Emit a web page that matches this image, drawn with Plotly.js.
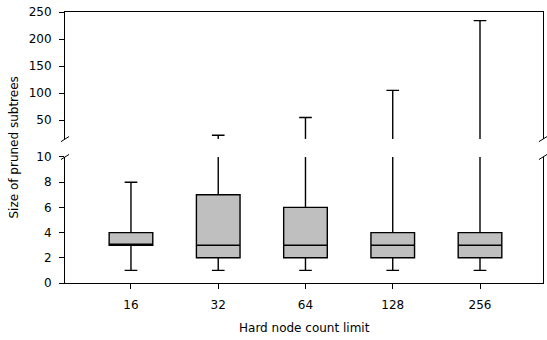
<!DOCTYPE html>
<html>
<head>
<meta charset="utf-8">
<script src="https://cdn.plot.ly/plotly-3.0.1.min.js"></script>
<style>html,body{margin:0;padding:0;background:#fff;}#chart{width:547px;height:340px;}</style>
</head>
<body>
<div id="chart"></div>
<script>
const categories = ['16', '32', '64', '128', '256'];
const lowerWhisker = [1, 1, 1, 1, 1];
const q1 = [3, 2, 2, 2, 2];
const median = [3, 3, 3, 3, 3];
const q3 = [4, 7, 6, 4, 4];
const upperWhisker = [8, 22, 55, 105, 234];
const topTicks = [50, 100, 150, 200, 250];
const bottomTicks = [0, 2, 4, 6, 8, 10];

const FONT = {family: 'DejaVu Sans', size: 12, color: '#000'};

function boxTrace(xa, ya) {
  return {
    type: 'box',
    x: categories,
    q1: q1,
    median: median,
    q3: q3,
    lowerfence: lowerWhisker,
    upperfence: upperWhisker,
    boxpoints: false,
    width: 0.5,
    whiskerwidth: 0.29,
    fillcolor: '#bfbfbf',
    line: {color: '#000', width: 1.4},
    xaxis: xa,
    yaxis: ya,
    hoverinfo: 'skip',
    showlegend: false
  };
}

const topBottom = 0.531, botTop = 0.465;
const dx = 0.0085, dy = 0.0095;
function brk(x, y) {
  return {type: 'line', xref: 'paper', yref: 'paper',
    x0: x - dx, y0: y - dy, x1: x + dx, y1: y + dy,
    line: {color: '#000', width: 1}};
}

const layout = {
  width: 547, height: 340,
  margin: {l: 65, r: 4, t: 12, b: 57},
  paper_bgcolor: '#fff', plot_bgcolor: '#fff',
  font: FONT,
  showlegend: false,
  xaxis: {
    type: 'category', range: [-0.756, 4.722], domain: [0, 1], anchor: 'y',
    showline: true, linecolor: '#000', linewidth: 1, mirror: false,
    ticks: 'outside', ticklen: 5, tickwidth: 1, tickcolor: '#000',
    ticklabelstandoff: 6,
    showgrid: false, zeroline: false, tickfont: FONT
  },
  yaxis: {
    range: [0, 10], domain: [0, botTop], anchor: 'x',
    tickvals: bottomTicks, ticktext: bottomTicks.map(String),
    showline: true, linecolor: '#000', linewidth: 1, mirror: true,
    ticks: 'outside', ticklen: 5, tickwidth: 1, tickcolor: '#000',
    ticklabelstandoff: 5,
    showgrid: false, zeroline: false, tickfont: FONT
  },
  xaxis2: {
    type: 'category', range: [-0.756, 4.722], domain: [0, 1], anchor: 'y2',
    side: 'top', showline: true, linecolor: '#000', linewidth: 1,
    ticks: '', showticklabels: false, showgrid: false, zeroline: false
  },
  yaxis2: {
    range: [15, 250], domain: [topBottom, 1], anchor: 'x2',
    tickvals: topTicks, ticktext: topTicks.map(String),
    showline: true, linecolor: '#000', linewidth: 1, mirror: true,
    ticks: 'outside', ticklen: 5, tickwidth: 1, tickcolor: '#000',
    ticklabelstandoff: 5,
    showgrid: false, zeroline: false, tickfont: FONT
  },
  shapes: [brk(0, topBottom), brk(1, topBottom), brk(0, botTop), brk(1, botTop)],
  annotations: [{
    text: 'Size of pruned subtrees', textangle: -90,
    xref: 'paper', yref: 'paper', x: -0.1067, y: 0.5,
    xanchor: 'center', yanchor: 'middle', showarrow: false, font: FONT
  }, {
    text: 'Hard node count limit',
    xref: 'paper', yref: 'paper', x: 0.5, y: -0.166,
    xanchor: 'center', yanchor: 'middle', showarrow: false, font: FONT
  }]
};

Plotly.newPlot('chart', [boxTrace('x', 'y'), boxTrace('x2', 'y2')], layout, {staticPlot: true, displayModeBar: false});
</script>
</body>
</html>
